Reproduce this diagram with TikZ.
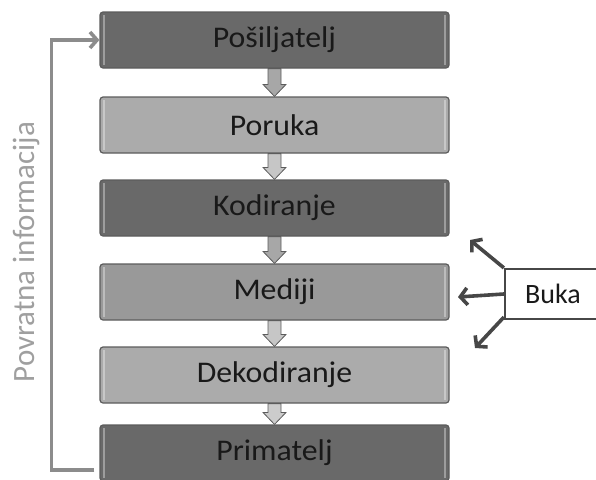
\documentclass[tikz,border=0pt]{standalone}
\usepackage{fontspec}
\setmainfont{Carlito}
\newfontfamily\boxfont[FakeStretch=1.06]{Carlito}
\usetikzlibrary{arrows.meta,calc}
\definecolor{darkfill}{gray}{0.41}
\definecolor{midfill}{gray}{0.60}
\definecolor{lightfill}{gray}{0.67}
\definecolor{boxline}{gray}{0.36}
\definecolor{feedline}{gray}{0.55}
\definecolor{noiseline}{gray}{0.28}
\tikzset{
  stage/.style={draw=boxline, line width=1.2pt, rounded corners=3pt,
    minimum width=349pt, minimum height=56pt, inner sep=0pt,
    text=black!90, font=\boxfont\fontsize{30}{33}\selectfont,
    path picture={
      \draw[white, opacity=0.35, line width=2pt]
        ([xshift=4pt,yshift=-3pt]path picture bounding box.north west) --
        ([xshift=4pt,yshift=3pt]path picture bounding box.south west);
      \draw[white, opacity=0.35, line width=2pt]
        ([xshift=-4pt,yshift=-3pt]path picture bounding box.north east) --
        ([xshift=-4pt,yshift=3pt]path picture bounding box.south east);
    }},
  downarrow/.style={draw=boxline, fill=#1, line width=0.8pt,
    to path={let \p1=(\tikztostart), \p2=(\tikztotarget) in
      (\x1-6.5pt,\y1) -- (\x1+6.5pt,\y1) -- (\x1+6.5pt,\y2+12pt) --
      (\x1+11.5pt,\y2+12pt) -- (\x1,\y2) -- (\x1-11.5pt,\y2+12pt) --
      (\x1-6.5pt,\y2+12pt) -- cycle}},
  feedback/.style={draw=feedline, line width=3.6pt,
    -{Straight Barb[length=7pt,width=16pt]}},
  noise/.style={draw=noiseline, line width=3.6pt,
    -{Straight Barb[length=7pt,width=17pt]}}
}
\begin{document}
\begin{tikzpicture}[x=1pt,y=-1pt]
\useasboundingbox (0,0) rectangle (596,479);

\node[stage, fill=darkfill]  (posiljatelj) at (274.5,40)  {Pošiljatelj};
\node[stage, fill=lightfill] (poruka)      at (274.5,125) {Poruka};
\node[stage, fill=darkfill]  (kodiranje)   at (274.5,208) {Kodiranje};
\node[stage, fill=midfill]   (mediji)      at (274.5,292) {Mediji};
\node[stage, fill=lightfill] (dekodiranje) at (274.5,375) {Dekodiranje};
\node[stage, fill=darkfill]  (primatelj)   at (274.5,453) {Primatelj};

\draw[downarrow=gray!85!black!60] (posiljatelj.south) to (poruka.north);
\draw[downarrow=gray!45]          (poruka.south) to (kodiranje.north);
\draw[downarrow=gray!85!black!60] (kodiranje.south) to (mediji.north);
\draw[downarrow=gray!45]          (mediji.south) to (dekodiranje.north);
\draw[downarrow=gray!40]          (dekodiranje.south) to (primatelj.north);

% povratna veza
\draw[feedback] ([xshift=-5pt,yshift=-17pt]primatelj.west) -- ++(-43,0)
  |- (posiljatelj.west);
\node[rotate=90, text=gray!75, font=\fontsize{31}{34}\selectfont]
  (povratna) at (26,252) {Povratna informacija};

% buka
\node[draw=noiseline, line width=2.2pt, fill=white, minimum width=96pt,
  minimum height=50pt, text=black!90, font=\fontsize{28}{30}\selectfont]
  (buka) at (553,294) {Buka};
\coordinate (gore)   at (470,240);
\coordinate (lijevo) at (458,297);
\coordinate (dolje)  at (475,348);
\draw[noise] (buka.north west) -- (gore);
\draw[noise] (buka.west) -- (lijevo);
\draw[noise] ([yshift=3pt]buka.south west) -- (dolje);
\end{tikzpicture}
\end{document}
